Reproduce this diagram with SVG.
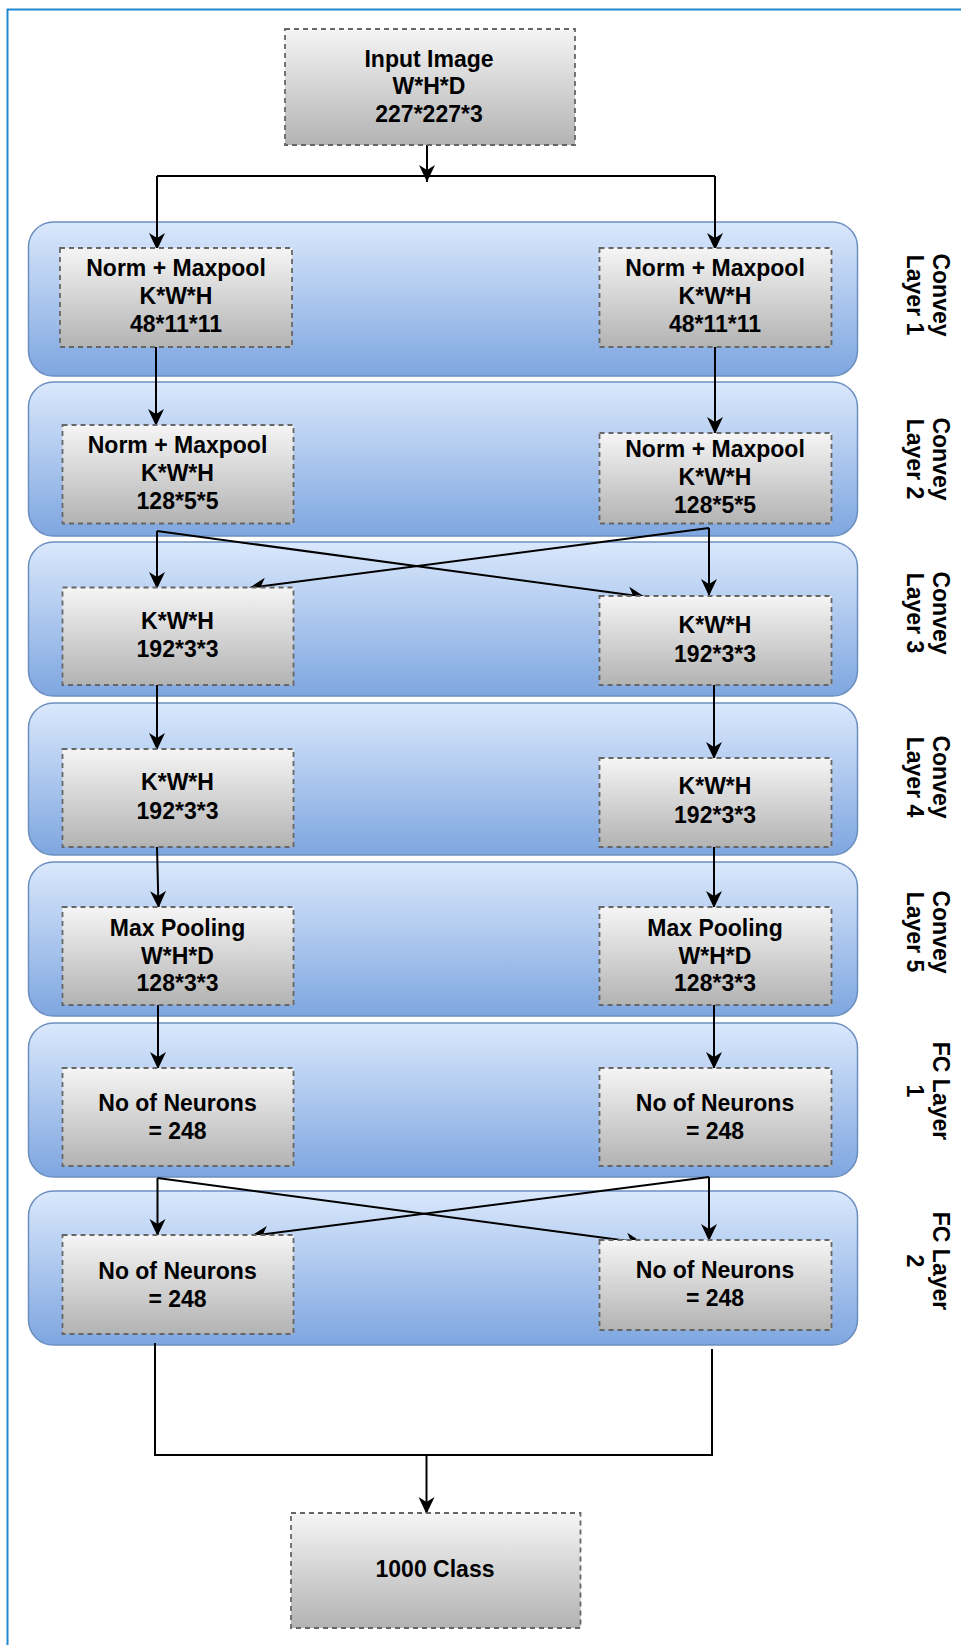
<svg xmlns="http://www.w3.org/2000/svg" width="961" height="1645" viewBox="0 0 961 1645">
  <style>
    .band { fill: url(#gBand); stroke: #6c8ebf; stroke-width: 1.5; }
    .box { fill: url(#gBox); stroke: #666666; stroke-width: 1.8; stroke-dasharray: 5 4; }
    .t { font-family: "Liberation Sans", Arial, Helvetica, sans-serif; font-weight: bold; font-size: 23px; text-anchor: middle; fill: #000000; }
    .wire { fill: none; stroke: #000000; stroke-width: 2; }
    .arr { fill: none; stroke: #000000; stroke-width: 2; marker-end: url(#head); }
  </style>
  <defs>
    <linearGradient id="gBand" x1="0" y1="0" x2="0" y2="1">
      <stop offset="0" stop-color="#dae8fc"/>
      <stop offset="1" stop-color="#7ea6e0"/>
    </linearGradient>
    <linearGradient id="gBox" x1="0" y1="0" x2="0" y2="1">
      <stop offset="0" stop-color="#f5f5f5"/>
      <stop offset="1" stop-color="#b3b3b3"/>
    </linearGradient>
    <marker id="head" markerUnits="userSpaceOnUse" viewBox="-18 -9 19 18" markerWidth="19" markerHeight="18" refX="0" refY="0" orient="auto">
      <path d="M0,0 L-17,-8 L-12,0 L-17,8 Z" fill="#000000"/>
    </marker>
  </defs>

  <!-- frame -->
  <rect x="7.5" y="9.5" width="1000" height="1700" fill="none" stroke="#1e88cf" stroke-width="2"/>

  <!-- layer bands -->
  <g id="bands">
    <g id="band-conv1"><rect class="band" x="28.5" y="222" width="829" height="154" rx="25"/></g>
    <g id="band-conv2"><rect class="band" x="28.5" y="382" width="829" height="154" rx="25"/></g>
    <g id="band-conv3"><rect class="band" x="28.5" y="542" width="829" height="154" rx="25"/></g>
    <g id="band-conv4"><rect class="band" x="28.5" y="703" width="829" height="152" rx="25"/></g>
    <g id="band-conv5"><rect class="band" x="28.5" y="862" width="829" height="154" rx="25"/></g>
    <g id="band-fc1"><rect class="band" x="28.5" y="1023" width="829" height="154" rx="25"/></g>
    <g id="band-fc2"><rect class="band" x="28.5" y="1191" width="829" height="154" rx="25"/></g>
  </g>

  <!-- side labels -->
  <g id="labels" class="t">
    <text transform="translate(920,295) rotate(90)"><tspan x="0" y="-13">Convey</tspan><tspan x="0" y="13.5">Layer 1</tspan></text>
    <text transform="translate(920,459) rotate(90)"><tspan x="0" y="-13">Convey</tspan><tspan x="0" y="13.5">Layer 2</tspan></text>
    <text transform="translate(920,613) rotate(90)"><tspan x="0" y="-13">Convey</tspan><tspan x="0" y="13.5">Layer 3</tspan></text>
    <text transform="translate(920,777) rotate(90)"><tspan x="0" y="-13">Convey</tspan><tspan x="0" y="13.5">Layer 4</tspan></text>
    <text transform="translate(920,932) rotate(90)"><tspan x="0" y="-13">Convey</tspan><tspan x="0" y="13.5">Layer 5</tspan></text>
    <text transform="translate(920,1091) rotate(90)"><tspan x="0" y="-13">FC Layer</tspan><tspan x="0" y="13.5">1</tspan></text>
    <text transform="translate(920,1261) rotate(90)"><tspan x="0" y="-13">FC Layer</tspan><tspan x="0" y="13.5">2</tspan></text>
  </g>

  <!-- connectors -->
  <g id="connectors">
    <path class="arr" d="M427,145 L427,182"/>
    <path class="wire" d="M157,176 L715,176" stroke-width="2.5"/>
    <path class="arr" d="M157,176 L157,250"/>
    <path class="arr" d="M715,176 L715,250"/>

    <path class="arr" d="M156,347 L156,426"/>
    <path class="arr" d="M715,347 L715,434"/>

    <path class="arr" d="M157,531 L157,589"/>
    <path class="arr" d="M157,531 L645,597"/>
    <path class="arr" d="M709,528 L709,596"/>
    <path class="arr" d="M709,528 L249,588"/>

    <path class="arr" d="M157,685 L157,750"/>
    <path class="arr" d="M714,685 L714,759"/>

    <path class="arr" d="M157,847 L158.5,908"/>
    <path class="arr" d="M714,847 L714,908"/>

    <path class="arr" d="M158,1005 L158,1069"/>
    <path class="arr" d="M714,1005 L714,1069"/>

    <path class="arr" d="M157.5,1178 L157.5,1236"/>
    <path class="arr" d="M157.5,1178 L643,1243"/>
    <path class="arr" d="M709,1177 L709,1241"/>
    <path class="arr" d="M709,1177 L251,1236"/>

    <path class="wire" d="M155,1343 L155,1455 L712,1455 L712,1349"/>
    <path class="arr" d="M426.5,1455 L426.5,1514"/>
  </g>

  <!-- nodes -->
  <g id="input">
    <rect class="box" x="285" y="29" width="290" height="116"/>
    <text class="t"><tspan x="429" y="66.5">Input Image</tspan><tspan x="429" y="94">W*H*D</tspan><tspan x="429" y="121.5">227*227*3</tspan></text>
  </g>

  <g id="c1-left">
    <rect class="box" x="60" y="248" width="232" height="99"/>
    <text class="t"><tspan x="176" y="276">Norm + Maxpool</tspan><tspan x="176" y="303.5">K*W*H</tspan><tspan x="176" y="331.5">48*11*11</tspan></text>
  </g>
  <g id="c1-right">
    <rect class="box" x="599.5" y="248" width="232" height="99"/>
    <text class="t"><tspan x="715" y="276">Norm + Maxpool</tspan><tspan x="715" y="303.5">K*W*H</tspan><tspan x="715" y="331.5">48*11*11</tspan></text>
  </g>

  <g id="c2-left">
    <rect class="box" x="62.5" y="425" width="231" height="98.5"/>
    <text class="t"><tspan x="177.5" y="453">Norm + Maxpool</tspan><tspan x="177.5" y="480.5">K*W*H</tspan><tspan x="177.5" y="508.5">128*5*5</tspan></text>
  </g>
  <g id="c2-right">
    <rect class="box" x="599.5" y="433" width="232" height="90.5"/>
    <text class="t"><tspan x="715" y="457">Norm + Maxpool</tspan><tspan x="715" y="484.5">K*W*H</tspan><tspan x="715" y="512.5">128*5*5</tspan></text>
  </g>

  <g id="c3-left">
    <rect class="box" x="62.5" y="587.5" width="231" height="97.5"/>
    <text class="t"><tspan x="177.5" y="629">K*W*H</tspan><tspan x="177.5" y="657">192*3*3</tspan></text>
  </g>
  <g id="c3-right">
    <rect class="box" x="599.5" y="596" width="232" height="89"/>
    <text class="t"><tspan x="715" y="633">K*W*H</tspan><tspan x="715" y="661.5">192*3*3</tspan></text>
  </g>

  <g id="c4-left">
    <rect class="box" x="62.5" y="749" width="231" height="98"/>
    <text class="t"><tspan x="177.5" y="790">K*W*H</tspan><tspan x="177.5" y="818.5">192*3*3</tspan></text>
  </g>
  <g id="c4-right">
    <rect class="box" x="599.5" y="758" width="232" height="89"/>
    <text class="t"><tspan x="715" y="794">K*W*H</tspan><tspan x="715" y="822.5">192*3*3</tspan></text>
  </g>

  <g id="c5-left">
    <rect class="box" x="62.5" y="907" width="231" height="98"/>
    <text class="t"><tspan x="177.5" y="936">Max Pooling</tspan><tspan x="177.5" y="963.5">W*H*D</tspan><tspan x="177.5" y="991">128*3*3</tspan></text>
  </g>
  <g id="c5-right">
    <rect class="box" x="599.5" y="907" width="232" height="98"/>
    <text class="t"><tspan x="715" y="936">Max Pooling</tspan><tspan x="715" y="963.5">W*H*D</tspan><tspan x="715" y="991">128*3*3</tspan></text>
  </g>

  <g id="fc1-left">
    <rect class="box" x="62.5" y="1068" width="231" height="98"/>
    <text class="t"><tspan x="177.5" y="1111">No of Neurons</tspan><tspan x="177.5" y="1139">= 248</tspan></text>
  </g>
  <g id="fc1-right">
    <rect class="box" x="599.5" y="1068" width="232" height="98"/>
    <text class="t"><tspan x="715" y="1111">No of Neurons</tspan><tspan x="715" y="1139">= 248</tspan></text>
  </g>

  <g id="fc2-left">
    <rect class="box" x="62.5" y="1235" width="231" height="99"/>
    <text class="t"><tspan x="177.5" y="1279">No of Neurons</tspan><tspan x="177.5" y="1307">= 248</tspan></text>
  </g>
  <g id="fc2-right">
    <rect class="box" x="599.5" y="1240" width="232" height="90"/>
    <text class="t"><tspan x="715" y="1278">No of Neurons</tspan><tspan x="715" y="1306">= 248</tspan></text>
  </g>

  <g id="output">
    <rect class="box" x="291" y="1513" width="289.5" height="115"/>
    <text class="t" x="435" y="1577">1000 Class</text>
  </g>
</svg>
